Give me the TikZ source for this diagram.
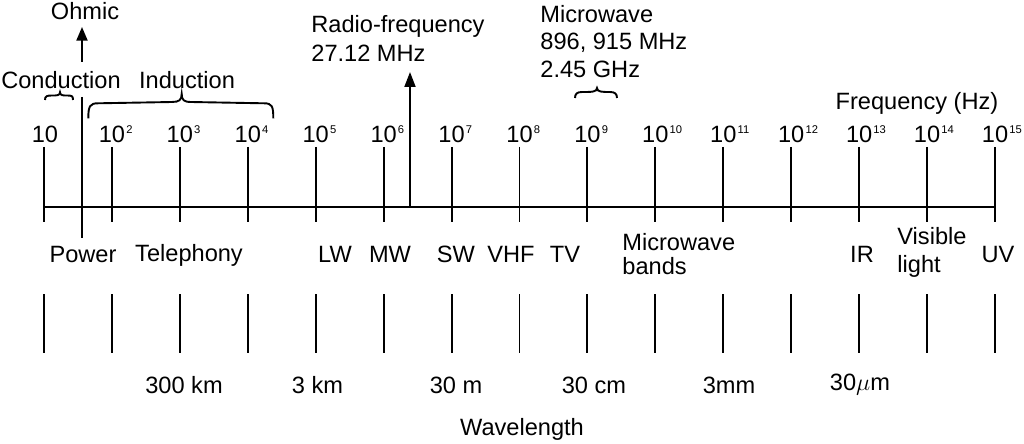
\documentclass[tikz,border=0pt]{standalone}
\usepackage{fontspec}
\setmainfont{Liberation Sans}
\usetikzlibrary{arrows.meta}
\newcommand\mysup[1]{\rlap{\kern0.6pt\raisebox{4.7pt}{\fontsize{5.6}{6}\selectfont #1}}}
\begin{document}
\begin{tikzpicture}[x=0.5pt,y=-0.5pt,
  lbl/.style={inner sep=0pt, font=\fontsize{11.8}{14}\selectfont},
  ln/.style={line width=0.95pt},
  arr/.style={ln,-{Triangle[length=6.8pt,width=5.5pt]}},
  ]
\useasboundingbox (0,0) rectangle (1024,444);
% ticks
\foreach \i in {1,...,15}{
  \pgfmathsetmacro\xx{44+67.93*(\i-1)}
  \coordinate (ut\i) at (\xx,147);
  \coordinate (ub\i) at (\xx,222);
  \coordinate (lt\i) at (\xx,294);
  \coordinate (lb\i) at (\xx,353);
  \draw[ln] (ut\i) -- (ub\i);
  \draw[ln] (lt\i) -- (lb\i);
}
% axis
\coordinate (axL) at (44,207);
\coordinate (axR) at (995,207);
\draw[ln] (axL) -- (axR);
% frequency labels
\node[lbl,anchor=base] (f1) at (45,142.5) {10};
\foreach \i in {2,...,15}{
  \pgfmathsetmacro\xx{44+67.93*(\i-1)}
  \node[lbl,anchor=base] (f\i) at (\xx,142.5) {10\mysup{\i}};
}
\node[lbl,anchor=base] (freq) at (917,110) {Frequency (Hz)};
% ohmic
\node[lbl,anchor=base] (ohmic) at (85,20) {Ohmic};
\coordinate (ohA) at (82,62);
\coordinate (ohT) at (82,27);
\draw[arr] (ohA) -- (ohT);
\coordinate (ohL1) at (82,97);
\coordinate (ohL2) at (82,238);
\draw[ln] (ohL1) -- (ohL2);
% conduction / induction
\node[lbl,anchor=base] (cond) at (61,89) {Conduction};
\node[lbl,anchor=base] (ind) at (187,89) {Induction};
\draw[ln] (45,100) .. controls (45,96) and (47,95.5) .. (52,95.5)
  .. controls (57,95.5) and (60,95.5) .. (60,92.3)
  .. controls (60,95.5) and (63,95.5) .. (67,95.5)
  .. controls (72,95.5) and (73,96) .. (73,100);
\draw[ln] (88.3,118.3) .. controls (88.3,106) and (90,103.3) .. (98,103.3)
  -- (172,102) .. controls (179,102) and (181.7,100) .. (181.7,94)
  .. controls (181.7,100) and (184,102) .. (191,102)
  -- (264,103.3) .. controls (272,103.3) and (273.3,106) .. (273.3,118.3);
% radio frequency
\node[lbl,anchor=base west] (rf1) at (311,33) {Radio-frequency};
\node[lbl,anchor=base west] (rf2) at (311,62) {27.12 MHz};
\coordinate (rfB) at (410,207);
\coordinate (rfT) at (410,72);
\draw[ln,-{Triangle[length=7.5pt,width=5.5pt]}] (rfB) -- (rfT);
% microwave
\node[lbl,anchor=base west] (mw1) at (540,23) {Microwave};
\node[lbl,anchor=base west] (mw2) at (540,50) {896, 915 MHz};
\node[lbl,anchor=base west] (mw3) at (540,78) {2.45 GHz};
\draw[ln] (575,98) .. controls (575,94) and (577,92) .. (582,92)
  .. controls (592,92) and (597,92) .. (597,88)
  .. controls (597,92) and (602,92) .. (610,92)
  .. controls (615,92) and (617,94) .. (617,98);
% bands
\node[lbl,anchor=base] (power) at (83,263) {Power};
\node[lbl,anchor=base] (tel) at (189,262) {Telephony};
\node[lbl,anchor=base] (lw) at (335,263) {LW};
\node[lbl,anchor=base] (mwb) at (390,263) {MW};
\node[lbl,anchor=base] (sw) at (456,263) {SW};
\node[lbl,anchor=base] (vhf) at (511,263) {VHF};
\node[lbl,anchor=base] (tv) at (565,263) {TV};
\node[lbl,anchor=base west] (mb1) at (622,250) {Microwave};
\node[lbl,anchor=base west] (mb2) at (622,275) {bands};
\node[lbl,anchor=base] (ir) at (862,263) {IR};
\node[lbl,anchor=base west] (vl1) at (897,245) {Visible};
\node[lbl,anchor=base west] (vl2) at (897,272) {light};
\node[lbl,anchor=base] (uv) at (998,263) {UV};
% wavelengths
\node[lbl,anchor=base] (w1) at (184,393) {300 km};
\node[lbl,anchor=base] (w2) at (317.5,393) {3 km};
\node[lbl,anchor=base] (w3) at (456,393) {30 m};
\node[lbl,anchor=base] (w4) at (594,393) {30 cm};
\node[lbl,anchor=base] (w5) at (729,393) {3mm};
\node[lbl,anchor=base] (w6) at (860,390) {30$\mu$m};
\node[lbl,anchor=base] (wl) at (522,435) {Wavelength};
\end{tikzpicture}
\end{document}
